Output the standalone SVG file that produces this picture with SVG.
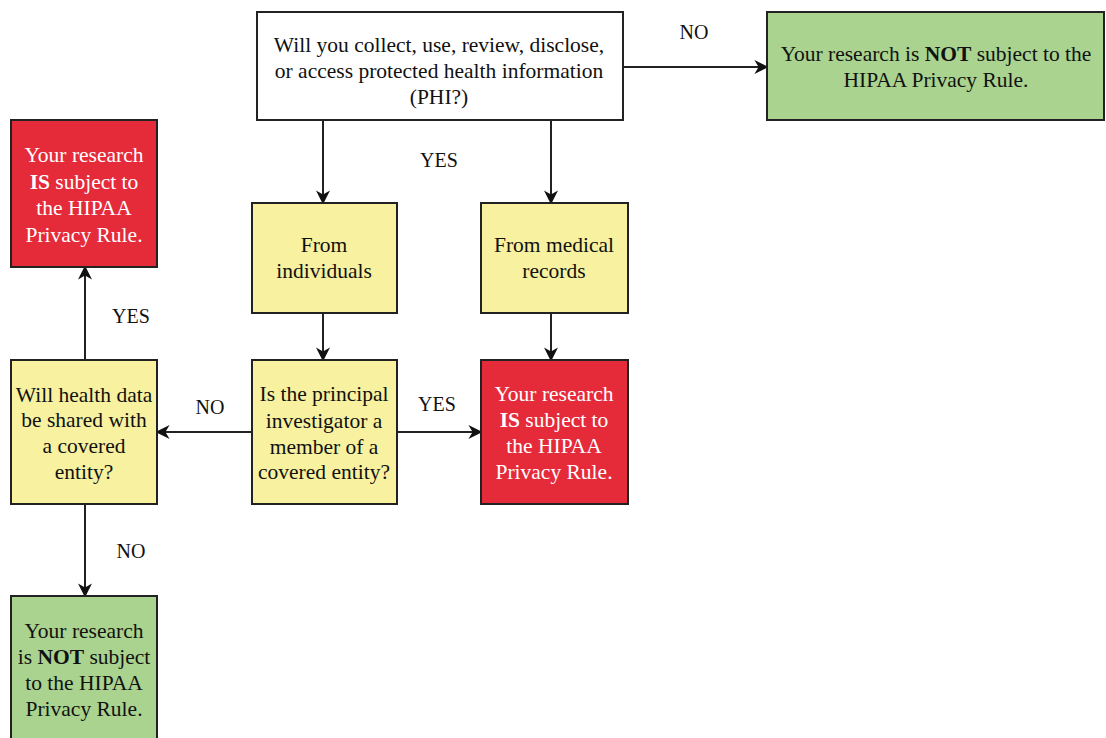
<svg xmlns="http://www.w3.org/2000/svg" width="1106" height="738" viewBox="0 0 1106 738">
<defs>
<style>
.box{stroke:#222;stroke-width:2}
.white{fill:#fff}
.yellow{fill:#f7f1a0}
.red{fill:#e52a3a}
.green{fill:#a9d38e}
text{font-family:"Liberation Serif","Times New Roman",serif;font-size:21.5px;text-anchor:middle;fill:#111}
.wt{fill:#fff}
.lbl{font-size:20px}
.con{stroke:#222;stroke-width:2;fill:none;marker-end:url(#ah)}
</style>
<marker id="ah" viewBox="0 0 10 10" refX="9" refY="5" markerWidth="7" markerHeight="7" orient="auto" markerUnits="strokeWidth">
<path d="M0,0 L10,5 L0,10 L3,5 z" fill="#111"/>
</marker>
</defs>
<rect width="1106" height="738" fill="#fff"/>
<g id="connectors">
<path class="con" d="M623,67 L767,67"/>
<path class="con" d="M323,120 L323,203"/>
<path class="con" d="M551,120 L551,203"/>
<path class="con" d="M323,313 L323,360"/>
<path class="con" d="M551,313 L551,360"/>
<path class="con" d="M397,432 L481,432"/>
<path class="con" d="M252,432 L157,432"/>
<path class="con" d="M85,360 L85,267"/>
<path class="con" d="M85,504 L85,596"/>
<text class="lbl" x="694" y="39">NO</text>
<text class="lbl" x="439" y="167">YES</text>
<text class="lbl" x="437" y="411">YES</text>
<text class="lbl" x="210" y="414">NO</text>
<text class="lbl" x="131" y="323">YES</text>
<text class="lbl" x="131" y="558">NO</text>
</g>
<g id="q-phi">
<rect class="box white" x="257" y="12" width="366" height="108"/>
<text x="439" y="52">Will you collect, use, review, disclose,</text>
<text x="439" y="78">or access protected health information</text>
<text x="439" y="104">(PHI?)</text>
</g>
<g id="not-subject-top">
<rect class="box green" x="767" y="12" width="337" height="108"/>
<text x="936" y="61">Your research is <tspan font-weight="bold">NOT</tspan> subject to the</text>
<text x="936" y="87">HIPAA Privacy Rule.</text>
</g>
<g id="from-individuals">
<rect class="box yellow" x="252" y="203" width="145" height="110"/>
<text x="324" y="252">From</text>
<text x="324" y="278">individuals</text>
</g>
<g id="from-records">
<rect class="box yellow" x="481" y="203" width="147" height="110"/>
<text x="554" y="252">From medical</text>
<text x="554" y="278">records</text>
</g>
<g id="q-pi">
<rect class="box yellow" x="252" y="360" width="145" height="144"/>
<text x="324" y="401">Is the principal</text>
<text x="324" y="428">investigator a</text>
<text x="324" y="454">member of a</text>
<text x="324" y="479">covered entity?</text>
</g>
<g id="subject-mid">
<rect class="box red" x="481" y="360" width="147" height="144"/>
<text class="wt" x="554" y="401">Your research</text>
<text class="wt" x="554" y="427"><tspan font-weight="bold">IS</tspan> subject to</text>
<text class="wt" x="554" y="453">the HIPAA</text>
<text class="wt" x="554" y="479">Privacy Rule.</text>
</g>
<g id="q-shared">
<rect class="box yellow" x="11" y="360" width="146" height="144"/>
<text x="84" y="402">Will health data</text>
<text x="84" y="427">be shared with</text>
<text x="84" y="453">a covered</text>
<text x="84" y="479">entity?</text>
</g>
<g id="subject-left">
<rect class="box red" x="11" y="120" width="146" height="147"/>
<text class="wt" x="84" y="162">Your research</text>
<text class="wt" x="84" y="189"><tspan font-weight="bold">IS</tspan> subject to</text>
<text class="wt" x="84" y="215">the HIPAA</text>
<text class="wt" x="84" y="242">Privacy Rule.</text>
</g>
<g id="not-subject-bottom">
<rect class="box green" x="11" y="596" width="146" height="150"/>
<text x="84" y="638">Your research</text>
<text x="84" y="664">is <tspan font-weight="bold">NOT</tspan> subject</text>
<text x="84" y="690">to the HIPAA</text>
<text x="84" y="716">Privacy Rule.</text>
</g>
</svg>
